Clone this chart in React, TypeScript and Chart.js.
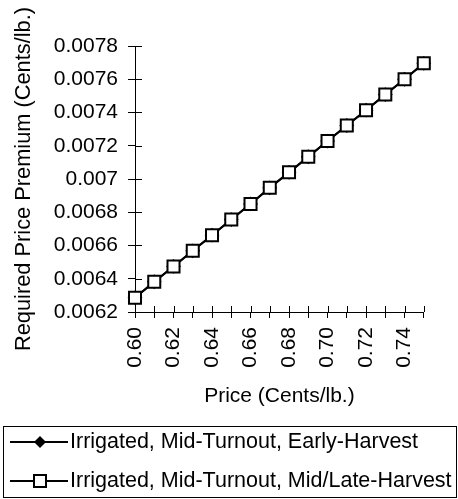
import React, { useEffect, useRef } from "react";
import { Chart, registerables } from "chart.js";

Chart.register(...registerables);

const prices = [0.6, 0.61, 0.62, 0.63, 0.64, 0.65, 0.66, 0.67, 0.68, 0.69, 0.7, 0.71, 0.72, 0.73, 0.74, 0.75];
const earlyHarvest = [0.006286, 0.006382, 0.006474, 0.006568, 0.006662, 0.006756, 0.00685, 0.006947, 0.00704, 0.007134, 0.007228, 0.007322, 0.007414, 0.007508, 0.0076, 0.007696];
const midLateHarvest = [0.006286, 0.006382, 0.006474, 0.006568, 0.006662, 0.006756, 0.00685, 0.006947, 0.00704, 0.007134, 0.007228, 0.007322, 0.007414, 0.007508, 0.0076, 0.007696];
const seriesNames = ["Irrigated, Mid-Turnout, Early-Harvest", "Irrigated, Mid-Turnout, Mid/Late-Harvest"];
const xTitle = "Price (Cents/lb.)";
const yTitle = "Required Price Premium (Cents/lb.)";
const yMin = 0.0062;
const yMax = 0.0078;
const yStep = 0.0002;
const xMin = 0.6;
const xMax = 0.75;
const xStep = 0.01;

const FONT = "'Liberation Sans', Arial, sans-serif";
const FS = 21;

const decorPlugin = {
  id: "decor",
  afterDraw(chart: any) {
    const ctx = chart.ctx;
    const area = chart.chartArea;
    const xs = chart.scales.x;
    const ys = chart.scales.y;
    ctx.save();
    ctx.strokeStyle = "#000";
    ctx.lineWidth = 1;
    ys.ticks.forEach((t: any) => {
      const y = Math.round(ys.getPixelForValue(t.value)) + 0.5;
      ctx.beginPath();
      ctx.moveTo(area.left, y);
      ctx.lineTo(area.left + 7, y);
      ctx.stroke();
    });
    xs.ticks.forEach((t: any) => {
      const x = Math.round(xs.getPixelForValue(t.value)) + 0.5;
      ctx.beginPath();
      ctx.moveTo(x, area.bottom);
      ctx.lineTo(x, area.bottom - 6);
      ctx.stroke();
    });
    ctx.fillStyle = "#000";
    ctx.font = `${FS}px ${FONT}`;
    ctx.textAlign = "center";
    ctx.textBaseline = "alphabetic";
    ctx.fillText(xTitle, (area.left + area.right) / 2, 402);
    ctx.save();
    ctx.font = `21.8px ${FONT}`;
    ctx.translate(30, (area.top + area.bottom) / 2);
    ctx.rotate(-Math.PI / 2);
    ctx.fillText(yTitle, 0, 0);
    ctx.restore();
    ctx.strokeRect(3.5, 426.5, 453, 71);
    ctx.font = `21.5px ${FONT}`;
    const rows = [442, 481];
    rows.forEach((ry, i) => {
      ctx.lineWidth = 2;
      ctx.beginPath();
      ctx.moveTo(10, ry);
      ctx.lineTo(68, ry);
      ctx.stroke();
      if (i === 0) {
        ctx.fillStyle = "#000";
        ctx.beginPath();
        ctx.moveTo(40, ry - 6);
        ctx.lineTo(46, ry);
        ctx.lineTo(40, ry + 6);
        ctx.lineTo(34, ry);
        ctx.closePath();
        ctx.fill();
      } else {
        ctx.fillStyle = "#fff";
        ctx.fillRect(34, ry - 6, 12, 12);
        ctx.strokeRect(34, ry - 6, 12, 12);
      }
      ctx.fillStyle = "#000";
      ctx.textAlign = "left";
      ctx.textBaseline = "middle";
      ctx.fillText(seriesNames[i], 70, ry);
    });
    ctx.restore();
  },
};

export default function App() {
  const ref = useRef<HTMLCanvasElement>(null);
  useEffect(() => {
    if (!ref.current) return;
    const chart = new Chart(ref.current, {
      type: "line",
      data: {
        datasets: [
          {
            label: seriesNames[0],
            data: prices.map((p, i) => ({ x: p, y: earlyHarvest[i] })),
            borderColor: "#000",
            backgroundColor: "#000",
            borderWidth: 2,
            pointStyle: "rectRot",
            pointRadius: 6,
            pointBackgroundColor: "#000",
            pointBorderColor: "#000",
            order: 1,
            clip: false,
          },
          {
            label: seriesNames[1],
            data: prices.map((p, i) => ({ x: p, y: midLateHarvest[i] })),
            borderColor: "#000",
            backgroundColor: "#fff",
            borderWidth: 2,
            pointStyle: "rect",
            pointRadius: 8.5,
            pointBorderWidth: 2,
            pointBackgroundColor: "#fff",
            pointBorderColor: "#000",
            order: 0,
            clip: false,
          },
        ],
      },
      options: {
        animation: false,
        responsive: false,
        events: [],
        layout: { padding: { left: 0, top: 46, right: 29, bottom: 74 } },
        plugins: { legend: { display: false }, tooltip: { enabled: false } },
        scales: {
          x: {
            type: "linear",
            min: xMin,
            max: xMax,
            afterFit: (s: any) => {
              s.height = 113;
            },
            grid: { drawOnChartArea: false, tickLength: 6, color: "#000", tickColor: "#000" },
            border: { color: "#000", width: 1 },
            ticks: {
              stepSize: xStep,
              autoSkip: false,
              minRotation: 90,
              maxRotation: 90,
              padding: 9,
              color: "#000",
              font: { family: FONT, size: FS },
              callback: (v: any) => {
                const n = Math.round(Number(v) * 100);
                return n % 2 === 0 ? (n / 100).toFixed(2) : "";
              },
            },
          },
          y: {
            min: yMin,
            max: yMax,
            afterFit: (s: any) => {
              s.width = 135;
            },
            grid: { drawOnChartArea: false, tickLength: 7, color: "#000", tickColor: "#000" },
            border: { color: "#000", width: 1 },
            ticks: {
              stepSize: yStep,
              padding: 10,
              color: "#000",
              font: { family: FONT, size: FS },
              callback: (v: any) => String(Number(Number(v).toFixed(4))),
            },
          },
        },
      },
      plugins: [decorPlugin],
    });
    return () => chart.destroy();
  }, []);
  return (
    <div style={{ position: "absolute", left: 0, top: 0, width: 458, height: 499, background: "#fff" }}>
      <canvas ref={ref} width={458} height={499} style={{ display: "block" }} />
    </div>
  );
}
